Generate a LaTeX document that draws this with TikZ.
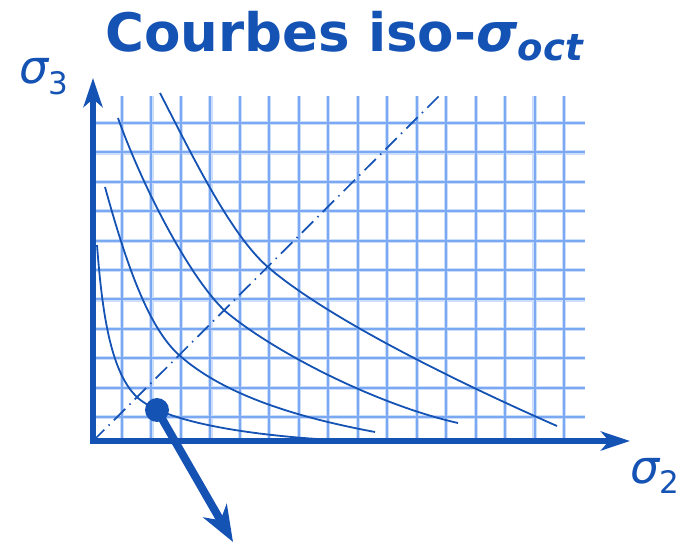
\documentclass[tikz,border=0pt]{standalone}
\usepackage{fontspec}
\setmainfont{DejaVu Sans}
\usetikzlibrary{arrows.meta}
\definecolor{dblue}{RGB}{20,82,180}
\definecolor{gridlight}{RGB}{205,222,250}
\definecolor{gridmid}{RGB}{122,168,242}
\tikzset{
  gridhalo/.style={draw=gridlight,line width=4.2pt},
  gridline/.style={draw=gridmid,line width=2pt},
  isocurve/.style={draw=dblue,line width=1.8pt},
  axisline/.style={draw=dblue,line width=5.5pt,line join=miter,
     {Stealth[length=29pt,width=19pt,inset=8pt]}-{Stealth[length=29pt,width=19pt,inset=8pt]}},
  diagline/.style={draw=dblue,line width=1.7pt,dash pattern=on 16pt off 6pt on 1.5pt off 6pt},
  loadarrow/.style={draw=dblue,line width=8pt,-{Stealth[length=36pt,width=27pt,inset=11pt]}},
  labeltext/.style={text=dblue,inner sep=0pt,anchor=base west}
}
\begin{document}
\begin{tikzpicture}[x=1pt,y=-1pt]
\useasboundingbox (0,0) rectangle (697,543);
% grid
\foreach \k in {0,...,15}{
  \draw[gridhalo] ({122+29.47*\k},96) -- ({122+29.47*\k},441);
}
\foreach \k in {0,...,10}{
  \draw[gridhalo] (93,{123+29.4*\k}) -- (585,{123+29.4*\k});
}
\foreach \k in {0,...,15}{
  \draw[gridline] ({122+29.47*\k},96) -- ({122+29.47*\k},441);
}
\foreach \k in {0,...,10}{
  \draw[gridline] (93,{123+29.4*\k}) -- (585,{123+29.4*\k});
}
% coordinates
\coordinate (O) at (93,441);
\coordinate (ytip) at (93,78);
\coordinate (xtip) at (630,441);
\coordinate (dend) at (440,95);
\coordinate (tip) at (233,542);
% diagonal
\draw[diagline] (O) -- (dend);
% iso curves
\draw[isocurve] (97,245) .. controls (102,310) and (110,373) .. (138,398)
                         .. controls (162,419) and (230,433) .. (317,439);
\draw[isocurve] (105,187) .. controls (127,267) and (149,328) .. (179,355)
                          .. controls (225,396) and (300,418) .. (375,432);
\draw[isocurve] (118,118) .. controls (143,188) and (190,278) .. (225,311)
                          .. controls (275,353) and (378,405) .. (458,423);
\draw[isocurve] (160,93) .. controls (192,155) and (231,236) .. (269,268)
                         .. controls (329,319) and (457,382) .. (557,426);
% axes
\draw[axisline] (ytip) -- (O) -- (xtip);
% point and arrow
\node[circle,fill=dblue,minimum size=24pt,inner sep=0pt] (dot) at (157,410) {};
\draw[loadarrow] (dot.center) -- (tip);
% labels
\node[labeltext] (title) at (105,52) {\fontsize{53}{60}\selectfont\bfseries Courbes iso-\textit{σ}\raisebox{-9pt}{\fontsize{37}{40}\selectfont\itshape oct}};
\node[labeltext] (s3) at (19,84) {\fontsize{46}{50}\selectfont\itshape σ\raisebox{-11pt}{\fontsize{31}{32}\selectfont\upshape 3}};
\node[labeltext] (s2) at (630,483) {\fontsize{46}{50}\selectfont\itshape σ\raisebox{-10pt}{\fontsize{31}{32}\selectfont\upshape 2}};
\end{tikzpicture}
\end{document}
